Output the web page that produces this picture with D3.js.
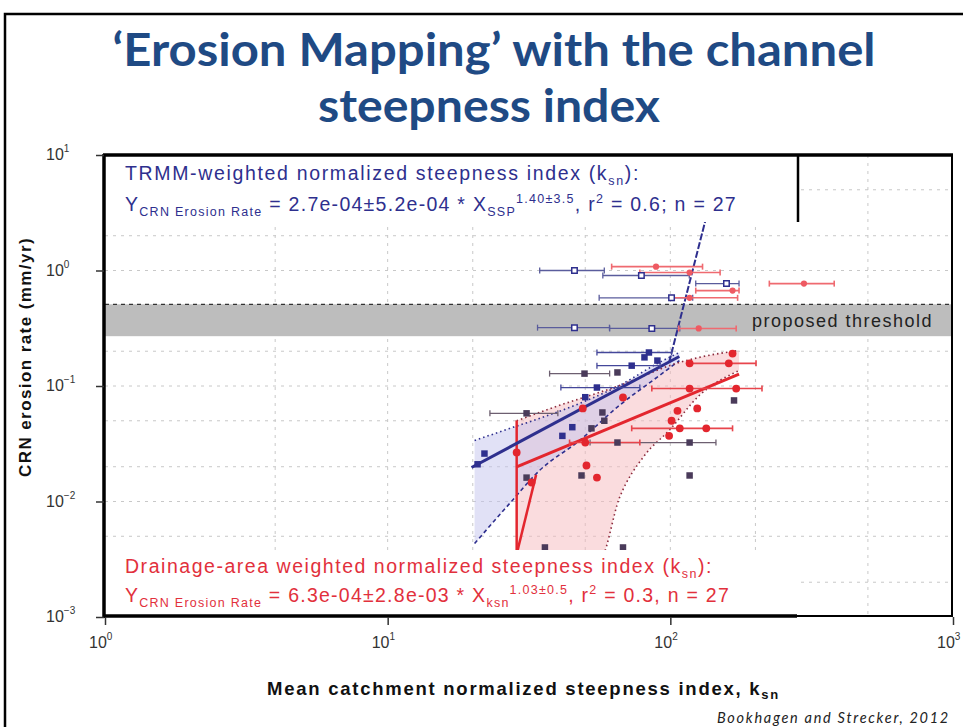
<!DOCTYPE html>
<html>
<head>
<meta charset="utf-8">
<script src="https://cdn.jsdelivr.net/npm/d3@7.9.0/dist/d3.min.js"></script>
<style>
  body { margin: 0; background: #fff; }
  svg { display: block; }
</style>
</head>
<body>
<svg id="chart" width="963" height="727"></svg>
<script>
// axis ticks and grid positions
const xTicks = [1, 10, 100, 1000];
const yTicks = [0.001, 0.01, 0.1, 1, 10];
const xGrid = [4, 10, 20, 50, 100, 200, 500];
const yGrid = [0.002, 0.005, 0.01, 0.02, 0.05, 0.1, 0.2, 1, 2, 5];
const threshold = [0.27, 0.51];

// points: [ksn, erosion rate, ksn low, ksn high]
const trmmPts = [
  [84, 0.195, 55, 101], [90, 0.166, null, null], [81, 0.177, null, null],
  [73, 0.150, 55, 92], [55, 0.097, 41, 78], [50, 0.080, null, null],
  [45, 0.044, null, null], [41.5, 0.037, null, null], [22, 0.026, null, null],
  [20.8, 0.021, null, null]
];
const darkPts = [
  [49.7, 0.128, 37.4, 61], [31, 0.058, 23, 40], [57.5, 0.059, null, null],
  [58.4, 0.050, null, null], [52.6, 0.043, null, null], [65, 0.0324, 52, 145],
  [117, 0.0324, null, null], [117, 0.0168, null, null], [48.5, 0.0168, null, null],
  [31, 0.0161, null, null], [36, 0.004, null, null], [68, 0.004, null, null],
  [168, 0.075, null, null], [65, 0.131, null, null]
];
const drainPts = [
  [166, 0.191, null, null], [161, 0.157, 117, 201], [117, 0.157, null, null],
  [171, 0.095, 86, 211], [117, 0.095, null, null], [124.5, 0.064, null, null],
  [106, 0.061, null, null], [101, 0.050, null, null], [134, 0.043, 73, 166],
  [108, 0.043, null, null], [99, 0.037, null, null], [50, 0.0324, 44, 78],
  [68, 0.0795, null, null], [28.6, 0.0266, null, null], [50.5, 0.0205, null, null],
  [55, 0.0161, null, null], [32.3, 0.0146, null, null], [49, 0.064, null, null]
];
// above the threshold
const trmmHigh = [
  [45.8, 1.0, 34.5, 58.4], [45.8, 0.32, 33.9, 60.9], [79, 0.905, 57.7, 116.7],
  [101, 0.58, 56, 120], [86, 0.315, 61, 108], [158, 0.77, 123, 175]
];
const drainHigh = [
  [89, 1.08, 62, 130], [117, 0.96, 78, 150], [166, 0.67, 123, 175],
  [117, 0.58, 101, 173], [126, 0.315, 107, 171], [297, 0.77, 224, 380]
];

// regression lines
const trmmFitK = [19.8, 107.6], trmmFitE = [0.0197, 0.18];
const trmmSteepK = [99, 133], trmmSteepE = [0.16, 2.7];
const drainFitK = [28.6, 175], drainFitE = [0.0199, 0.127];
const drainEdgeK = [28.6, 28.6], drainEdgeE = [0.0503, 0.003];
const drainSteepK = [28.6, 33.5], drainSteepE = [0.0035, 0.017];

// confidence bands
const trmmBandK  = [20.3, 27, 34.4, 47.7, 66.1, 91.4, 107.7];
const trmmBandLo = [0.00433, 0.0096, 0.0185, 0.0337, 0.068, 0.123, 0.166];
const trmmBandHi = [0.0337, 0.0429, 0.0523, 0.0706, 0.101, 0.16, 0.195];
const drainBandK  = [28.6, 40.5, 56.1, 66.1, 81, 99, 126.6, 175];
const drainBandLo = [0.0031, 0.0031, 0.0031, 0.0108, 0.025, 0.0412, 0.0828, 0.136];
const drainBandHi = [0.050, 0.068, 0.088, 0.101, 0.123, 0.150, 0.177, 0.203];

const NAVY = '#2e2f8e', RED = '#e3262e', DARK = '#4a3b5a';

const svg = d3.select('#chart');
const x = d3.scaleLog().domain([1, 1000]).range([105, 953]);
const y = d3.scaleLog().domain([0.001, 10]).range([617, 155]);

// stretch letter spacing so a text fills a given width
function fitWidth(sel, w) {
  const n = sel.node();
  const cur = n.getComputedTextLength();
  const chars = n.textContent.length;
  sel.attr('letter-spacing', ((w - cur) / chars).toFixed(3));
}

// slide frame
svg.append('rect').attr('x', 5).attr('y', 14).attr('width', 1000).attr('height', 760)
  .attr('fill', 'none').attr('stroke', '#000').attr('stroke-width', 2.5);

// title
const title = svg.append('g').attr('fill', '#1f4a84').attr('font-family', 'Lato, "Open Sans", sans-serif')
  .attr('font-weight', 'bold').attr('font-size', 46).attr('text-anchor', 'middle');
title.append('text').attr('x', 494).attr('y', 66).text('‘Erosion Mapping’ with the channel')
  .attr('textLength', 763).attr('lengthAdjust', 'spacingAndGlyphs');
title.append('text').attr('x', 489).attr('y', 122).text('steepness index')
  .attr('textLength', 342).attr('lengthAdjust', 'spacingAndGlyphs');

svg.append('defs').append('clipPath').attr('id', 'plotclip')
  .append('rect').attr('x', 105).attr('y', 155).attr('width', 848).attr('height', 462);

const plot = svg.append('g').attr('clip-path', 'url(#plotclip)');

// grid
plot.selectAll('.gx').data(xGrid).join('line')
  .attr('x1', d => x(d)).attr('x2', d => x(d)).attr('y1', 155).attr('y2', 617)
  .attr('stroke', '#c8c8c8').attr('stroke-dasharray', '3,5');
plot.selectAll('.gy').data(yGrid).join('line')
  .attr('x1', 105).attr('x2', 953).attr('y1', d => y(d)).attr('y2', d => y(d))
  .attr('stroke', '#c8c8c8').attr('stroke-dasharray', '3,5');

// threshold band
plot.append('rect').attr('x', 105).attr('width', 848)
  .attr('y', y(threshold[1])).attr('height', y(threshold[0]) - y(threshold[1]))
  .attr('fill', '#bdbdbd');
plot.append('line').attr('x1', 105).attr('x2', 953)
  .attr('y1', y(threshold[1])).attr('y2', y(threshold[1]))
  .attr('stroke', '#333').attr('stroke-width', 1.2).attr('stroke-dasharray', '4,4');

// confidence bands
function band(ks, lo, hi, fill, op) {
  const rows = ks.map((k, i) => ({ k, lo: lo[i], hi: hi[i] }));
  plot.append('path').datum(rows)
    .attr('d', d3.area().x(d => x(d.k)).y0(d => y(d.lo)).y1(d => y(d.hi)).curve(d3.curveMonotoneX))
    .attr('fill', fill).attr('fill-opacity', op);
  return rows;
}
function edge(rows, key, color, dash) {
  plot.append('path').datum(rows)
    .attr('d', d3.line().x(d => x(d.k)).y(d => y(d[key])).curve(d3.curveMonotoneX))
    .attr('fill', 'none').attr('stroke', color).attr('stroke-width', 1.6).attr('stroke-dasharray', dash);
}
const drainRows = band(drainBandK, drainBandLo, drainBandHi, '#f6b9bd', 0.5);
const trmmRows = band(trmmBandK, trmmBandLo, trmmBandHi, '#c4c4ee', 0.5);
edge(trmmRows, 'hi', NAVY, '1.5,3');
edge(trmmRows, 'lo', NAVY, '4,3');
edge(drainRows, 'hi', '#8c2a3c', '1.5,3');
edge(drainRows, 'lo', '#8c2a3c', '1.5,3');

// regression lines
function seg(ks, es, color, w, dash) {
  plot.append('path').datum(ks.map((k, i) => [k, es[i]]))
    .attr('d', d3.line().x(d => x(d[0])).y(d => y(d[1])))
    .attr('stroke', color).attr('stroke-width', w).attr('fill', 'none')
    .attr('stroke-dasharray', dash || null);
}
seg(drainEdgeK, drainEdgeE, RED, 2.5);
seg(drainSteepK, drainSteepE, RED, 2.5);
seg(drainFitK, drainFitE, RED, 3);
seg(trmmFitK, trmmFitE, NAVY, 3);
seg(trmmSteepK, trmmSteepE, NAVY, 2, '7,2');

// error bars and markers
function errorBars(pts, color, w) {
  const g = plot.append('g').attr('stroke', color).attr('stroke-width', w);
  pts.filter(d => d[2] !== null).forEach(d => {
    g.append('line').attr('x1', x(d[2])).attr('x2', x(d[3])).attr('y1', y(d[1])).attr('y2', y(d[1]));
    [d[2], d[3]].forEach(k => g.append('line').attr('x1', x(k)).attr('x2', x(k))
      .attr('y1', y(d[1]) - 3).attr('y2', y(d[1]) + 3));
  });
}
function markers(pts, type, size, fill, stroke) {
  plot.append('g').selectAll('path').data(pts).join('path')
    .attr('transform', d => `translate(${x(d[0])},${y(d[1])})`)
    .attr('d', d3.symbol().type(type).size(size))
    .attr('fill', fill).attr('stroke', stroke).attr('stroke-width', 1.5);
}
errorBars(trmmHigh, '#5a5c9c', 1.3);
errorBars(drainHigh, '#ef6a70', 1.6);
errorBars(darkPts, '#6d5f70', 1.3);
errorBars(trmmPts, '#44479a', 1.3);
errorBars(drainPts, '#e8454c', 1.6);
markers(trmmHigh, d3.symbolSquare, 30, '#fff', NAVY);
markers(drainHigh, d3.symbolCircle, 30, '#ee5a62', 'none');
markers(darkPts, d3.symbolSquare, 42, DARK, 'none');
markers(trmmPts, d3.symbolSquare, 42, NAVY, 'none');
markers(drainPts, d3.symbolCircle, 48, RED, 'none');

// threshold label
const thr = svg.append('text').attr('x', 752).attr('y', 327)
  .attr('font-family', '"Liberation Sans", Arial, sans-serif').attr('font-size', 18)
  .attr('fill', '#222').text('proposed threshold');
fitWidth(thr, 181);

// annotation boxes
svg.append('rect').attr('x', 105).attr('y', 155).attr('width', 693).attr('height', 67).attr('fill', '#fff');
svg.append('rect').attr('x', 105).attr('y', 550).attr('width', 692).attr('height', 67).attr('fill', '#fff');

function eqText(px, py, color, parts, w) {
  const t = svg.append('text').attr('x', px).attr('y', py).attr('fill', color)
    .attr('font-family', '"Liberation Sans", Arial, sans-serif').attr('font-size', 19.5);
  let off = 0;
  parts.forEach(([s, kind]) => {
    const target = kind === 'sub' ? 5 : kind === 'sup' ? -8 : 0;
    const sp = t.append('tspan').attr('dy', target - off).text(s);
    if (kind) sp.attr('font-size', 12.5);
    off = target;
  });
  fitWidth(t, w);
}
eqText(125, 180, NAVY, [['TRMM-weighted normalized steepness index (k'], ['sn', 'sub'], ['):']], 515);
eqText(125, 211, NAVY, [['Y'], ['CRN Erosion Rate', 'sub'], [' = 2.7e-04±5.2e-04 * X'], ['SSP', 'sub'],
  ['1.40±3.5', 'sup'], [', r'], ['2', 'sup'], [' = 0.6; n = 27']], 612);
eqText(125, 573, '#e2303c', [['Drainage-area weighted normalized steepness index (k'], ['sn', 'sub'], ['):']], 588);
eqText(125, 602, '#e2303c', [['Y'], ['CRN Erosion Rate', 'sub'], [' = 6.3e-04±2.8e-03 * X'], ['ksn', 'sub'],
  ['1.03±0.5', 'sup'], [', r'], ['2', 'sup'], [' = 0.3, n = 27']], 605);

// frame
const frame = svg.append('g').attr('stroke', '#000');
frame.append('line').attr('x1', 103).attr('x2', 953).attr('y1', 155).attr('y2', 155).attr('stroke-width', 3.5);
frame.append('line').attr('x1', 104).attr('x2', 104).attr('y1', 154).attr('y2', 618).attr('stroke-width', 3.5);
frame.append('line').attr('x1', 103).attr('x2', 797).attr('y1', 616).attr('y2', 616).attr('stroke-width', 3.5);
frame.append('line').attr('x1', 797).attr('x2', 953).attr('y1', 616).attr('y2', 616).attr('stroke-width', 2);
frame.append('line').attr('x1', 952).attr('x2', 952).attr('y1', 154).attr('y2', 617).attr('stroke-width', 2);
frame.append('line').attr('x1', 798).attr('x2', 798).attr('y1', 155).attr('y2', 222).attr('stroke-width', 2.5);

// axes ticks
const xAxis = svg.append('g').attr('transform', 'translate(0,617)')
  .call(d3.axisBottom(x).tickValues(xTicks).tickSize(8).tickFormat(''));
const yAxis = svg.append('g').attr('transform', 'translate(104,0)')
  .call(d3.axisLeft(y).tickValues(yTicks).tickSize(8).tickFormat(''));
[xAxis, yAxis].forEach(a => {
  a.select('.domain').remove();
  a.selectAll('.tick line').attr('stroke', '#333').attr('stroke-width', 1.5);
});

const sup = v => String(Math.round(Math.log10(v))).replace('-', '−');
const tickFont = '"Liberation Sans", Arial, sans-serif';
xTicks.forEach(v => {
  const t = svg.append('text').attr('x', x(v) - 16).attr('y', 648)
    .attr('font-family', tickFont).attr('font-size', 16).attr('fill', '#333');
  t.append('tspan').text('10');
  t.append('tspan').attr('dy', -8).attr('font-size', 10).text(sup(v));
});
yTicks.forEach(v => {
  const t = svg.append('text').attr('x', 46).attr('y', y(v) + 5)
    .attr('font-family', tickFont).attr('font-size', 16).attr('fill', '#333');
  t.append('tspan').text('10');
  t.append('tspan').attr('dy', -8).attr('font-size', 10).text(sup(v));
});

// axis titles
const yl = svg.append('text').attr('transform', 'translate(31,357) rotate(-90)')
  .attr('text-anchor', 'middle').attr('font-family', tickFont).attr('font-weight', 'bold')
  .attr('font-size', 17).attr('fill', '#111').text('CRN erosion rate (mm/yr)');
fitWidth(yl, 240);
const xl = svg.append('text').attr('x', 267).attr('y', 695)
  .attr('font-family', tickFont).attr('font-weight', 'bold').attr('font-size', 18.5).attr('fill', '#111');
xl.append('tspan').text('Mean catchment normalized steepness index, k');
xl.append('tspan').attr('dy', 4).attr('font-size', 13).text('sn');
fitWidth(xl, 513);

// citation
const cite = svg.append('text').attr('x', 717).attr('y', 723)
  .attr('font-family', 'Lato, sans-serif').attr('font-style', 'italic').attr('font-size', 14.5)
  .attr('fill', '#222').text('Bookhagen and Strecker, 2012');
fitWidth(cite, 233);
</script>
</body>
</html>
